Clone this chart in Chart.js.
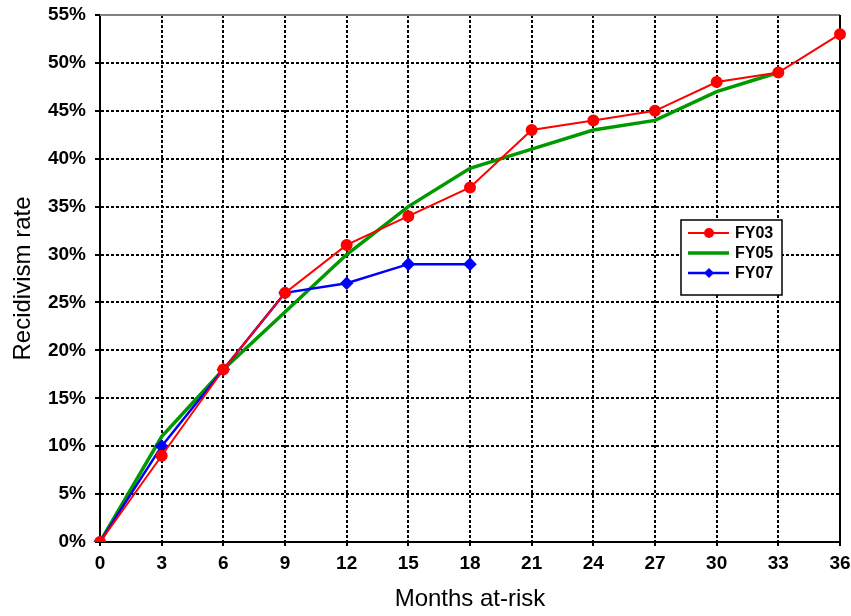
<!DOCTYPE html>
<html>
<head>
<meta charset="utf-8">
<script src="https://cdn.jsdelivr.net/npm/chart.js@4"></script>
<style>
  html, body { margin: 0; padding: 0; background: #fff; }
  #wrap { width: 851px; height: 616px; position: relative; }
</style>
</head>
<body>
<div id="wrap"><canvas id="chart"></canvas></div>
<script>
// months at-risk (x categories)
const months = ['0', '3', '6', '9', '12', '15', '18', '21', '24', '27', '30', '33', '36'];

// recidivism rate, percent
const fy03 = [0, 9, 18, 26, 31, 34, 37, 43, 44, 45, 48, 49, 53];
const fy05 = [0, 11, 18, 24, 30, 35, 39, 41, 43, 44, 47, 49];
const fy07 = [0, 10, 18, 26, 27, 29, 29];

const yTicks = [0, 5, 10, 15, 20, 25, 30, 35, 40, 45, 50, 55];

const FONT = 'Arial, "Liberation Sans", sans-serif';

// ── frame: gray top, black right ──
const framePlugin = {
  id: 'frame',
  beforeDatasetsDraw(chart) {
    const { ctx, chartArea: a } = chart;
    ctx.save();
    ctx.lineWidth = 2;
    ctx.strokeStyle = '#808080';
    ctx.beginPath();
    ctx.moveTo(a.left, a.top);
    ctx.lineTo(a.right, a.top);
    ctx.stroke();
    ctx.strokeStyle = '#000';
    ctx.beginPath();
    ctx.moveTo(a.right, a.top);
    ctx.lineTo(a.right, a.bottom);
    ctx.stroke();
    ctx.restore();
  }
};

// ── boxed legend inside the plot ──
const legendBox = {
  id: 'legendBox',
  afterDraw(chart) {
    const { ctx } = chart;
    const x = 681, y = 220, w = 101, h = 75;
    ctx.save();
    ctx.fillStyle = '#fff';
    ctx.fillRect(x, y, w, h);
    ctx.lineWidth = 1.5;
    ctx.strokeStyle = '#000';
    ctx.strokeRect(x, y, w, h);
    ctx.font = 'bold 16px ' + FONT;
    ctx.textBaseline = 'middle';
    // legend order follows FY03, FY05, FY07
    const order = [2, 0, 1];
    order.forEach((di, i) => {
      const ds = chart.data.datasets[di];
      const cy = y + 13 + i * 20;
      ctx.strokeStyle = ds.borderColor;
      ctx.lineWidth = ds.borderWidth;
      ctx.beginPath();
      ctx.moveTo(x + 7, cy);
      ctx.lineTo(x + 48, cy);
      ctx.stroke();
      if (ds.pointRadius > 0) {
        ctx.fillStyle = ds.borderColor;
        ctx.beginPath();
        if (ds.pointStyle === 'rectRot') {
          const r = ds.pointRadius;
          ctx.moveTo(x + 28, cy - r);
          ctx.lineTo(x + 28 + r, cy);
          ctx.lineTo(x + 28, cy + r);
          ctx.lineTo(x + 28 - r, cy);
        } else {
          ctx.arc(x + 28, cy, ds.pointRadius, 0, Math.PI * 2);
        }
        ctx.fill();
      }
      ctx.fillStyle = '#000';
      ctx.fillText(ds.label, x + 54, cy + 1);
    });
    ctx.restore();
  }
};

new Chart(document.getElementById('chart'), {
  type: 'line',
  data: {
    labels: months,
    datasets: [
      {
        label: 'FY05',
        data: fy05,
        borderColor: '#009900',
        backgroundColor: '#009900',
        borderWidth: 3.5,
        pointRadius: 0,
        tension: 0,
        order: 3,
      },
      {
        label: 'FY07',
        data: fy07,
        borderColor: '#0000ff',
        backgroundColor: '#0000ff',
        borderWidth: 2.5,
        pointStyle: 'rectRot',
        pointRadius: 5,
        tension: 0,
        order: 2,
      },
      {
        label: 'FY03',
        data: fy03,
        borderColor: '#ff0000',
        backgroundColor: '#ff0000',
        borderWidth: 2,
        pointStyle: 'circle',
        pointRadius: 5,
        tension: 0,
        order: 1,
      },
    ],
  },
  options: {
    responsive: true,
    maintainAspectRatio: false,
    animation: false,
    layout: { padding: { top: 15, right: 11, left: 0, bottom: 0 } },
    plugins: {
      legend: { display: false },
      tooltip: { enabled: false },
    },
    scales: {
      x: {
        type: 'category',
        offset: false,
        grid: {
          color: '#000',
          lineWidth: 2,
          tickLength: 4,
        },
        border: { display: true, color: '#000', width: 2, dash: [3, 2] },
        ticks: {
          color: '#000',
          font: { family: FONT, size: 19, weight: 'bold' },
          maxRotation: 0,
          autoSkip: false,
          padding: 6,
        },
        title: {
          display: true,
          text: 'Months at-risk',
          color: '#000',
          font: { family: FONT, size: 24 },
          padding: { top: 0, bottom: 2 },
        },
        afterFit(scale) {
          scale.height = 74;
          scale.paddingLeft = 0;
          scale.paddingRight = 0;
        },
      },
      y: {
        min: 0,
        max: 55,
        afterBuildTicks(scale) { scale.ticks = yTicks.map(v => ({ value: v })); },
        grid: {
          color: '#000',
          lineWidth: 2,
          tickLength: 5,
        },
        border: { display: true, color: '#000', width: 2, dash: [3, 2] },
        ticks: {
          color: '#000',
          font: { family: FONT, size: 19, weight: 'bold' },
          padding: 9,
          callback: v => v + '%',
        },
        title: {
          display: true,
          text: 'Recidivism rate',
          color: '#000',
          font: { family: FONT, size: 24 },
          padding: { top: 9, bottom: 0 },
        },
        afterFit(scale) {
          scale.width = 100;
          scale.paddingTop = 0;
          scale.paddingBottom = 0;
        },
      },
    },
  },
  plugins: [framePlugin, legendBox],
});
</script>
</body>
</html>
